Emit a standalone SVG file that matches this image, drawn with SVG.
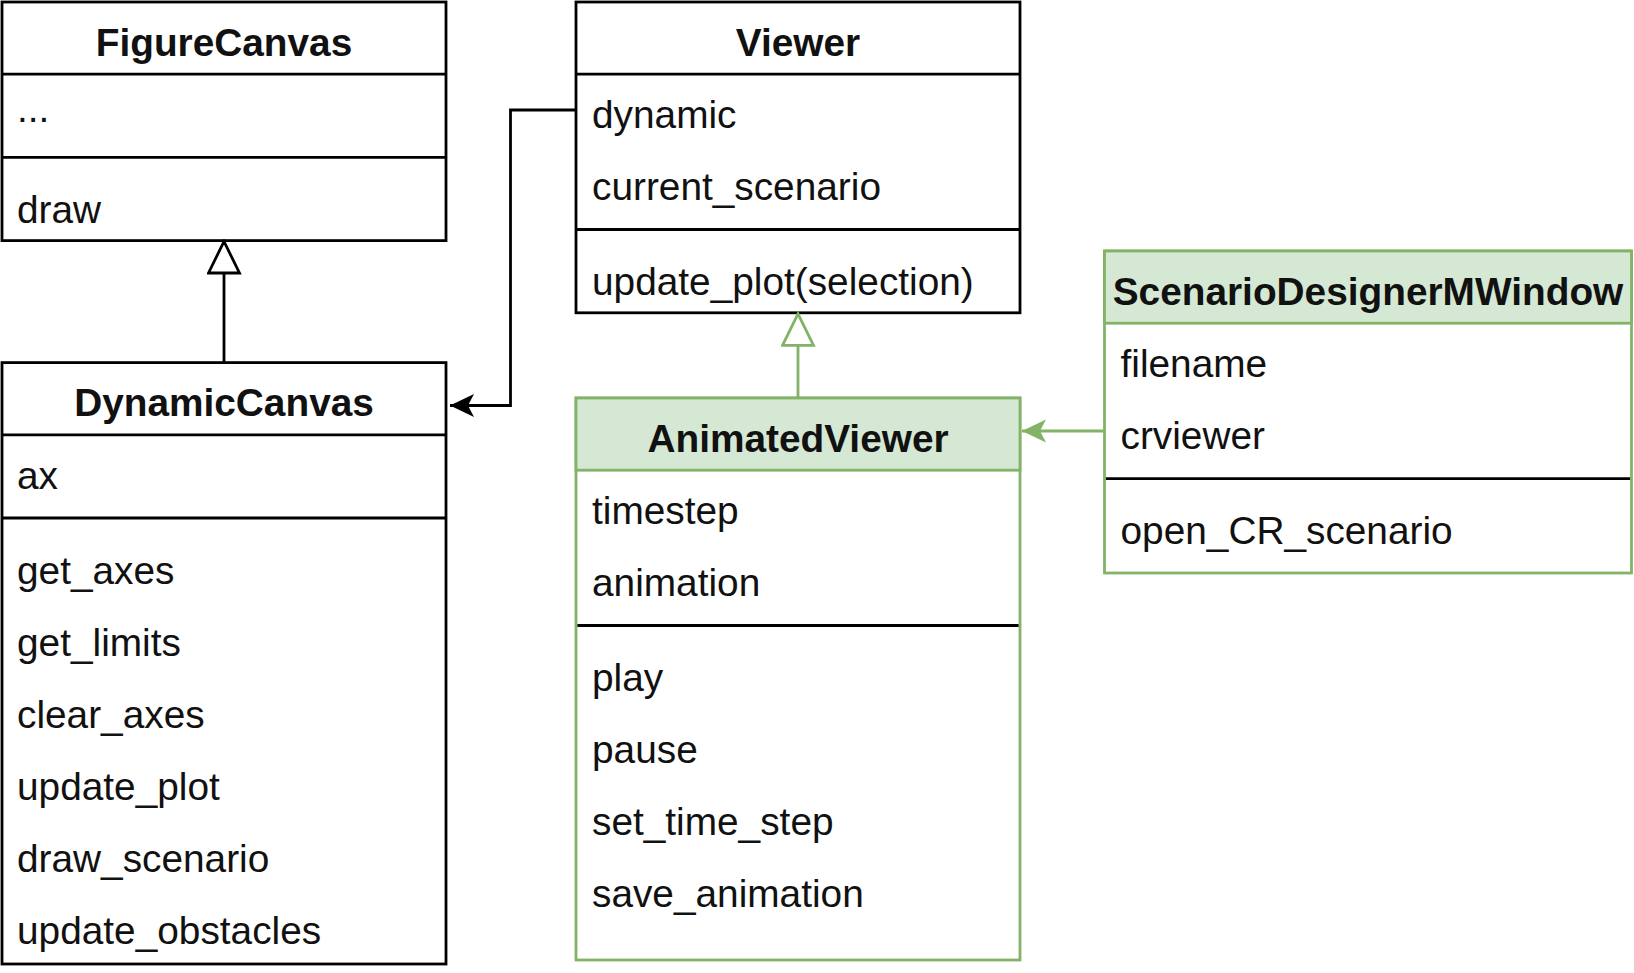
<svg xmlns="http://www.w3.org/2000/svg" width="1634" height="973" viewBox="0 0 1634 973">
<style>
text{font-family:"Liberation Sans",Arial,sans-serif;font-size:38.8px;fill:#111}
.h{font-weight:bold;text-anchor:middle}
.box{fill:#fff;stroke:#000;stroke-width:2.8}
.gbox{fill:#fff;stroke:#82b366;stroke-width:2.8}
.ghead{fill:#d5e8d4;stroke:#82b366;stroke-width:2.8}
.ln{stroke:#000;stroke-width:2.8}
.gln{stroke:#82b366;stroke-width:2.8}
.c{fill:none;stroke:#000;stroke-width:2.8}
.gc{fill:none;stroke:#82b366;stroke-width:2.8}
</style>
<defs>
<marker id="triB" markerUnits="userSpaceOnUse" markerWidth="36" markerHeight="36" viewBox="0 0 36 36" refX="33" refY="17" orient="auto"><path d="M1.5,1.5 L33,17 L1.5,32.5 Z" fill="#fff" stroke="#000" stroke-width="2.8"/></marker>
<marker id="triG" markerUnits="userSpaceOnUse" markerWidth="36" markerHeight="36" viewBox="0 0 36 36" refX="33" refY="17" orient="auto"><path d="M1.5,1.5 L33,17 L1.5,32.5 Z" fill="#fff" stroke="#82b366" stroke-width="2.8"/></marker>
<marker id="arrB" markerUnits="userSpaceOnUse" markerWidth="26" markerHeight="26" viewBox="0 0 26 26" refX="24" refY="12" orient="auto"><path d="M0,0.5 L24,12 L0,23.5 L6,12 Z" fill="#000"/></marker>
<marker id="arrG" markerUnits="userSpaceOnUse" markerWidth="26" markerHeight="26" viewBox="0 0 26 26" refX="24" refY="12" orient="auto"><path d="M0,0.5 L24,12 L0,23.5 L6,12 Z" fill="#82b366"/></marker>
</defs>
<rect width="1634" height="973" fill="#fff"/>

<g id="FigureCanvas">
<rect class="box" x="2" y="2" width="444" height="238.6"/>
<line class="ln" x1="2" y1="74.2" x2="446" y2="74.2"/>
<line class="ln" x1="2" y1="157.4" x2="446" y2="157.4"/>
<text class="h" x="224" y="55.5">FigureCanvas</text>
<text x="17" y="122">...</text>
<text x="17" y="223">draw</text>
</g>

<g id="DynamicCanvas">
<rect class="box" x="2" y="362.6" width="444" height="601.4"/>
<line class="ln" x1="2" y1="434.8" x2="446" y2="434.8"/>
<line class="ln" x1="2" y1="518" x2="446" y2="518"/>
<text class="h" x="224" y="416">DynamicCanvas</text>
<text x="17" y="488.8">ax</text>
<text x="17" y="583.5">get_axes</text>
<text x="17" y="655.7">get_limits</text>
<text x="17" y="727.8">clear_axes</text>
<text x="17" y="800">update_plot</text>
<text x="17" y="872">draw_scenario</text>
<text x="17" y="944.3">update_obstacles</text>
</g>

<g id="Viewer">
<rect class="box" x="576" y="2" width="444" height="310.8"/>
<line class="ln" x1="576" y1="74.2" x2="1020" y2="74.2"/>
<line class="ln" x1="576" y1="229.5" x2="1020" y2="229.5"/>
<text class="h" x="798" y="55.5">Viewer</text>
<text x="592" y="128">dynamic</text>
<text x="592" y="200">current_scenario</text>
<text x="592" y="294.6">update_plot(selection)</text>
</g>

<g id="AnimatedViewer">
<rect class="gbox" x="576" y="398" width="444" height="562"/>
<rect class="ghead" x="576" y="398" width="444" height="72.2"/>
<line class="ln" x1="577.4" y1="625.5" x2="1018.6" y2="625.5"/>
<text class="h" x="798" y="451.5">AnimatedViewer</text>
<text x="592" y="524">timestep</text>
<text x="592" y="596">animation</text>
<text x="592" y="690.5">play</text>
<text x="592" y="762.5">pause</text>
<text x="592" y="834.6">set_time_step</text>
<text x="592" y="906.7">save_animation</text>
</g>

<g id="ScenarioDesignerMWindow">
<rect class="gbox" x="1104.5" y="251" width="527" height="322"/>
<rect class="ghead" x="1104.5" y="251" width="527" height="72.2"/>
<line class="ln" x1="1105.9" y1="478.6" x2="1630.1" y2="478.6"/>
<text class="h" x="1368" y="304.5">ScenarioDesignerMWindow</text>
<text x="1120.5" y="377">filename</text>
<text x="1120.5" y="449">crviewer</text>
<text x="1120.5" y="543.6">open_CR_scenario</text>
</g>

<g id="connectors">
<path class="c" d="M224,362.6 V241.5" marker-end="url(#triB)"/>
<path class="gc" d="M798,398 V313.8" marker-end="url(#triG)"/>
<path class="c" d="M576,110 H510.5 V405.5 H450" marker-end="url(#arrB)"/>
<path class="gc" d="M1104.5,431 H1022" marker-end="url(#arrG)"/>
</g>
</svg>
